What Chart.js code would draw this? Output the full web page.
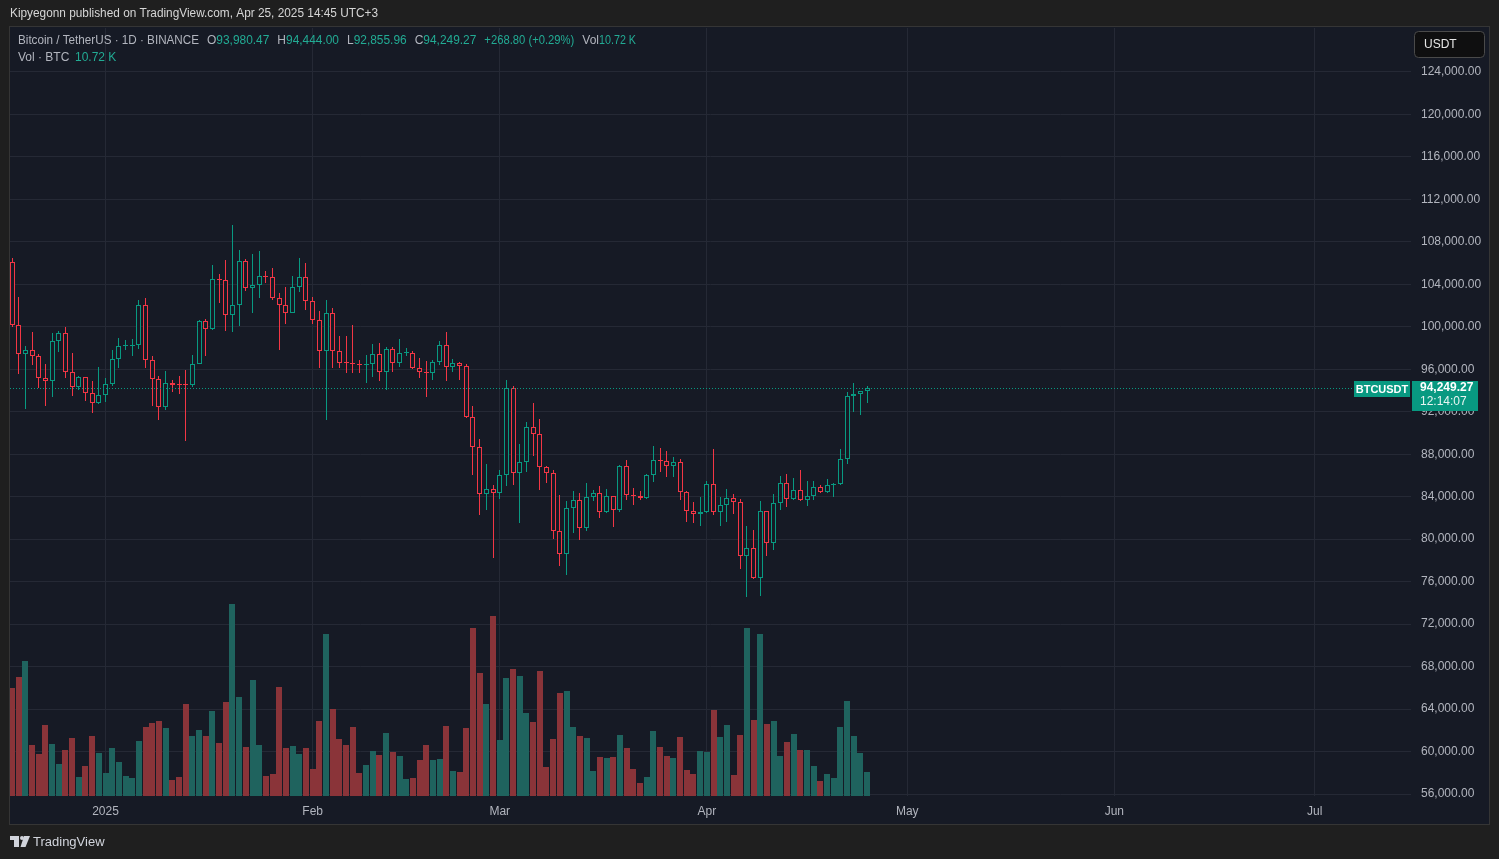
<!DOCTYPE html>
<html><head><meta charset="utf-8">
<script src="https://cdn.jsdelivr.net/npm/chart.js@4.4.1/dist/chart.umd.min.js"></script>
<style>html,body{margin:0;padding:0;background:#1f1f1f;overflow:hidden}#wrap{position:relative;width:1499px;height:859px}</style>
</head><body><div id="wrap"><canvas id="c" width="1499" height="859"></canvas></div>
<script>
// Daily BTC/USDT candles, 2024-12-18 .. 2025-04-25 (index 0 = Dec 18)
const startDate = '2024-12-18';
const opens = [
106133,100204,97461,97805,97291,95186,94877,98663,99429,95792,94300,95300,93738,92792,
93576,94591,96984,98174,98236,98314,102078,96922,95043,92484,94701,94566,94545,94516,96534,100504,99756,104462,104408,101089,102016,106158,103653,103960,104820,104714,102682,102087,101332,103734,104722,
102429,100635,97700,101328,97763,96612,96554,96506,96444,96462,97430,95778,97869,96608,97500,97569,96118,95780,95671,96644,98306,96182,96555,96274,91552,88680,84250,84708,
84349,86064,94270,86220,87281,90606,89931,86801,86222,80734,78595,82932,83680,81066,83969,84343,82579,84075,82718,86854,84167,84043,83832,86054,87498,87392,86909,87232,84424,82648,82390,
82550,85158,82516,83213,83889,83537,78430,79163,76323,82615,79607,83424,85276,83760,84591,83643,84031,84947,84474,85077,85179,87516,93442,93691,93980.47];
const highs = [
106524,102800,98233,99540,97448,96538,99416,99569,99963,97544,95340,95315,94903,96250,
95151,97839,98976,98734,98813,102482,102722,97258,95349,95836,94977,95378,95893,97371,100681,100781,105865,104988,106314,109588,107240,106394,106850,107120,105286,105500,103220,103783,104800,106457,106012,
102783,101456,102500,101745,99149,99120,100137,96880,97323,98345,98478,98119,98080,98826,97972,97704,97046,96753,96899,98711,99475,96950,96650,96504,92540,89414,87078,85120,
86558,95000,94416,88967,91000,92811,91283,86897,86500,84123,83617,84539,84336,85310,84672,85051,84757,84100,87022,87453,84850,84513,86094,88765,88543,88292,87756,87515,84567,83534,83943,
85487,88500,83998,84720,84266,83817,81243,80867,83588,82700,84300,85905,86100,85799,86496,85500,85470,85132,85677,85320,88465,93817,94696,94000,94444.00];
const lows = [
100000,95587,92232,96398,94250,92520,93366,97632,95200,93500,94014,93009,91914,92750,
92888,94392,96100,97777,97271,97926,96132,92500,91220,92206,93840,93712,89256,94305,96500,97275,99700,102277,99651,99550,100119,103339,101262,102750,104106,102520,97777,100233,101329,103278,101560,
100279,96150,91231,96150,96155,95676,95620,95689,94713,95256,94876,94088,95700,96253,97223,96046,95205,93388,95029,96415,94871,95766,95000,91371,86050,82256,82717,78258,
83824,85050,85117,81500,86334,87852,84667,85248,80000,77459,76606,80614,79939,80797,83639,82017,82457,81179,82566,83655,83175,83674,83794,85346,86300,85862,85837,83647,81644,81565,81279,
82429,82320,81211,81659,82379,77153,74508,76239,74620,78456,78936,82792,83034,83678,83600,83111,83736,84303,84367,83949,85144,87084,91935,91660,92855.96];
const closes = [
100204,97461,97805,97291,95186,94877,98663,99429,95792,94300,95300,93738,92792,93576,
94591,96984,98174,98236,98314,102078,96922,95043,92484,94701,94566,94545,94516,96534,100504,99756,104462,104408,101089,102016,106158,103653,103960,104820,104714,102682,102087,101332,103734,104722,102429,
100635,97700,101328,97763,96612,96554,96506,96444,96462,97430,95778,97869,96608,97500,97569,96118,95780,95671,96644,98306,96182,96555,96274,91552,88680,84250,84708,84349,
86064,94270,86220,87281,90606,89931,86801,86222,80734,78595,82932,83680,81066,83969,84343,82579,84075,82718,86854,84167,84043,83832,86054,87498,87392,86909,87232,84424,82648,82390,82550,
85158,82516,83213,83889,83537,78430,79163,76323,82615,79607,83424,85276,83760,84591,83643,84031,84947,84474,85077,85179,87516,93442,93691,93980.47,94249.27];
// Volume in thousands of BTC
const volumes = [
48.3,53.2,60.3,22.8,18.8,31.7,23.2,14.3,20.6,25.9,8.5,13.4,26.8,19.2,
10.3,21.5,15.2,8.9,8.0,24.6,30.8,32.6,33.5,30.4,7.2,8.5,41.1,26.8,29.5,26.8,38.0,23.7,42.0,85.8,44.3,21.9,51.9,22.8,8.9,9.8,48.7,21.5,22.4,18.8,21.5,
12.1,33.5,72.4,38.9,25.5,22.8,30.8,10.3,13.9,20.1,18.3,28.2,19.7,17.9,7.6,8.0,16.1,22.8,16.1,16.5,31.3,11.2,10.7,30.4,75.1,55.0,41.1,80.5,
25.0,52.7,56.8,53.6,37.1,33.1,55.9,13.0,25.5,46.0,46.9,30.8,26.8,25.9,11.2,17.4,17.0,17.4,27.3,21.5,12.1,5.8,8.5,29.1,21.9,17.9,17.0,26.4,11.6,9.8,20.1,
19.7,38.4,26.4,31.7,9.4,27.3,75.1,34.0,72.4,32.2,33.5,17.9,24.1,27.7,20.6,20.6,13.4,6.7,9.8,8.0,30.8,42.5,26.8,19.2,10.72];
// time-axis ticks (day index from startDate) and their labels
const monthTickDays = [14,45,73,104,134,165,195];
const monthTickLabels = ['2025','Feb','Mar','Apr','May','Jun','Jul'];
const priceTicks = [56000,60000,64000,68000,72000,76000,80000,84000,88000,92000,96000,100000,104000,108000,112000,116000,120000,124000];
const symbolName = 'Bitcoin / TetherUS · 1D · BINANCE';
const tickerName = 'BTCUSDT';
const countdown = '12:14:07';
const titleText = 'Kipyegonn published on TradingView.com, Apr 25, 2025 14:45 UTC+3';

const UP='#089981', DOWN='#f23645', BG='#161a25', VUP='#1f635e', VDOWN='#8a3439';
const TXT='#b2b5be', TEAL='#22ab94';
const FONT='"Liberation Sans", Arial, sans-serif';
const n = opens.length;
const isUp = opens.map((o,i)=>closes[i]>=o);
const fmt2 = v => v.toLocaleString('en-US',{minimumFractionDigits:2,maximumFractionDigits:2});

const bodyData = opens.map((o,i)=>({x:i,y:[Math.min(o,closes[i]),Math.max(o,closes[i])]}));
const wickData = lows.map((l,i)=>({x:i,y:[l,highs[i]]}));
const volData = volumes.map((v,i)=>({x:i,y:v}));

const bgPlugin = {
  id:'bg',
  beforeDraw(chart){
    const c=chart.ctx;
    c.save();
    c.fillStyle='#1f1f1f'; c.fillRect(0,0,chart.width,chart.height);
    c.fillStyle='#353535'; c.fillRect(9,26,1481,799);
    c.fillStyle=BG; c.fillRect(10,27,1479,797);
    c.restore();
  }
};

// snap bar elements to the pixel grid for crisp 1px outlines
const snapPlugin = {
  id:'snap',
  afterDatasetsUpdate(chart){
    chart.data.datasets.forEach((ds,di)=>{
      const meta=chart.getDatasetMeta(di);
      meta.data.forEach(el=>{
        const w=Math.round(el.width);
        el.x = (w%2===1) ? Math.floor(el.x)+0.5 : Math.round(el.x);
        el.y = Math.round(el.y); el.base = Math.round(el.base);
        if(el.base-el.y<1) el.y=el.base-1;
        el.height = el.base-el.y;
      });
    });
  }
};

const overlayPlugin = {
  id:'overlay',
  afterDatasetsDraw(chart){
    const c=chart.ctx, a=chart.chartArea, y=chart.scales.y;
    const py=Math.round(y.getPixelForValue(closes[n-1]))+0.5;
    c.save();
    c.strokeStyle=UP; c.lineWidth=1; c.setLineDash([1,2]);
    c.beginPath(); c.moveTo(a.left,py); c.lineTo(a.right,py); c.stroke();
    c.restore();
  },
  afterDraw(chart){
    const c=chart.ctx, a=chart.chartArea, y=chart.scales.y;
    const py=Math.round(y.getPixelForValue(closes[n-1]));
    c.save();
    // ticker label
    c.fillStyle=UP;
    c.fillRect(a.right-57,py-7,56,16);
    c.fillStyle='#ffffff'; c.font='bold 11px '+FONT; c.textBaseline='middle'; c.textAlign='center';
    c.fillText(tickerName,a.right-29,py+1.5);
    // price box
    c.fillStyle=UP;
    c.fillRect(a.right+1,py-7,66,30);
    c.textAlign='left';
    c.fillStyle='#ffffff'; c.font='bold 12px '+FONT;
    c.fillText(fmt2(closes[n-1]),a.right+9,py-0.5,57);
    c.font='12px '+FONT; c.fillStyle='#e8f5f2';
    c.fillText(countdown,a.right+9,py+13.5,57);
    // USDT button
    c.beginPath(); c.roundRect(1414.5,31.5,70,26,4);
    c.fillStyle='#0f0f10'; c.fill(); c.strokeStyle='#4a4a4a'; c.lineWidth=1; c.stroke();
    c.fillStyle='#e6e6e6'; c.font='12px '+FONT; c.textBaseline='middle';
    c.fillText('USDT',1424,45);
    // title
    c.fillStyle='#d6d6d6'; c.font='12px '+FONT;
    c.fillText(titleText,10,14,368);
    // legend line 1
    const i=n-1, chg=closes[i]-closes[i-1], pct=chg/closes[i-1]*100;
    const segs=[
      [symbolName,TXT,181,8],
      ['O',TXT,0,0],[fmt2(opens[i]),TEAL,53,8],
      ['H',TXT,0,0],[fmt2(highs[i]),TEAL,53,8],
      ['L',TXT,0,0],[fmt2(lows[i]),TEAL,53,8],
      ['C',TXT,0,0],[fmt2(closes[i]),TEAL,53,8],
      [(chg>=0?'+':'')+chg.toFixed(2)+' ('+(chg>=0?'+':'')+pct.toFixed(2)+'%)',TEAL,90,8],
      ['Vol',TXT,0,0],[volumes[i].toFixed(2)+' K',TEAL,37,0]
    ];
    let x=18;
    c.font='12px '+FONT;
    for(const [t,col,w,gap] of segs){
      c.fillStyle=col;
      let tw=c.measureText(t).width;
      if(w&&tw>w){ c.fillText(t,x,41,w); tw=w; } else c.fillText(t,x,41);
      x+=tw+gap;
    }
    // legend line 2
    c.fillStyle=TXT; c.fillText('Vol · BTC',18,58);
    c.fillStyle=TEAL; c.fillText(volumes[i].toFixed(2)+' K',75,58);
    // TradingView logo
    c.fillStyle='#d1d4dc';
    c.fillRect(10,836,9,4); c.fillRect(14,836,5,11);
    c.beginPath(); c.arc(22,838,2,0,Math.PI*2); c.fill();
    c.beginPath(); c.moveTo(24,836); c.lineTo(30,836); c.lineTo(25.5,847); c.lineTo(20.5,847); c.closePath(); c.fill();
    c.font='13px '+FONT; c.fillStyle='#d1d4dc';
    c.fillText('TradingView',33,842);
    c.restore();
  }
};

new Chart(document.getElementById('c'),{
  type:'bar',
  data:{datasets:[
    {label:'body',data:bodyData,yAxisID:'y',backgroundColor:BG,borderColor:isUp.map(u=>u?UP:DOWN),borderWidth:1,borderSkipped:false,barThickness:5,minBarLength:1,grouped:false,order:0,inflateAmount:0},
    {label:'wick',data:wickData,yAxisID:'y',backgroundColor:isUp.map(u=>u?UP:DOWN),borderWidth:0,barThickness:1,grouped:false,order:1,inflateAmount:0},
    {label:'volume',data:volData,yAxisID:'yv',backgroundColor:isUp.map(u=>u?VUP:VDOWN),borderWidth:0,barThickness:6,grouped:false,order:2,inflateAmount:0}
  ]},
  options:{
    responsive:false, animation:false, devicePixelRatio:1,
    layout:{padding:{left:10,top:28,right:11,bottom:36}},
    plugins:{legend:{display:false},tooltip:{enabled:false}},
    scales:{
      x:{type:'linear',min:-0.3,max:209.4,offset:false,position:'bottom',
        afterBuildTicks:s=>{s.ticks=monthTickDays.map(v=>({value:v}));},
        afterFit:s=>{s.height=27;},
        ticks:{callback:(v,idx)=>monthTickLabels[idx],color:TXT,font:{family:FONT,size:12},padding:8,maxRotation:0,autoSkip:false},
        grid:{color:'#252935',drawTicks:false,offset:false},border:{display:false}},
      y:{type:'linear',position:'right',min:55812,max:128144,
        afterBuildTicks:s=>{s.ticks=priceTicks.map(v=>({value:v}));},
        afterFit:s=>{s.width=77;},
        ticks:{callback:v=>fmt2(v),color:TXT,font:{family:FONT,size:12},padding:10,autoSkip:false},
        grid:{color:'#252935',drawTicks:false},border:{display:false}},
      yv:{type:'linear',display:false,min:0,max:343.3}
    }
  },
  plugins:[bgPlugin,snapPlugin,overlayPlugin]
});
</script>
</body></html>
